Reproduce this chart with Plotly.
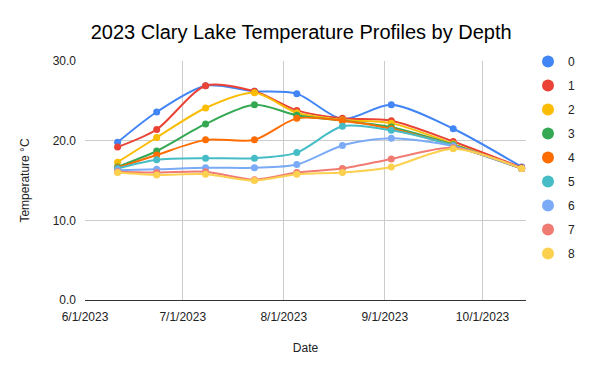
import plotly.graph_objects as go

dates = ["2023-06-11", "2023-06-23", "2023-07-08", "2023-07-23", "2023-08-05",
         "2023-08-19", "2023-09-03", "2023-09-22", "2023-10-13"]

depth_names = ["0", "1", "2", "3", "4", "5", "6", "7", "8"]

d0 = [19.8, 23.6, 26.9, 26.2, 25.9, 22.7, 24.5, 21.5, 16.7]
d1 = [19.2, 21.4, 26.9, 26.2, 23.8, 22.8, 22.5, 19.9, 16.6]
d2 = [17.3, 20.4, 24.1, 26.0, 23.5, 22.6, 22.2, 19.6, 16.5]
d3 = [16.7, 18.7, 22.1, 24.5, 23.2, 22.5, 21.7, 19.5, 16.5]
d4 = [16.6, 18.2, 20.1, 20.1, 22.8, 22.5, 21.5, 19.4, 16.5]
d5 = [16.5, 17.6, 17.8, 17.8, 18.5, 21.8, 21.3, 19.4, 16.5]
d6 = [16.3, 16.4, 16.6, 16.6, 17.0, 19.4, 20.3, 19.3, 16.5]
d7 = [16.1, 16.0, 16.1, 15.1, 16.0, 16.5, 17.7, 19.1, 16.5]
d8 = [16.0, 15.7, 15.8, 15.0, 15.8, 16.0, 16.7, 19.0, 16.5]

series = [d0, d1, d2, d3, d4, d5, d6, d7, d8]
colors = ["#4285F4", "#EA4335", "#FBBC04", "#34A853", "#FF6D01",
          "#46BDC6", "#7BAAF7", "#F07B72", "#FCD04F"]

FONT = "Liberation Sans, Arial, sans-serif"

fig = go.Figure()
for name, vals, col in zip(depth_names, series, colors):
    fig.add_trace(go.Scatter(
        x=dates, y=vals, mode="lines+markers", name=name,
        line=dict(color=col, width=2, shape="spline", smoothing=0.8),
        marker=dict(color=col, size=7),
        showlegend=False, hoverinfo="x+y+name"))
for name, col in zip(depth_names, colors):
    fig.add_trace(go.Scatter(
        x=[None], y=[None], mode="markers", name=name,
        marker=dict(color=col, size=12), legendgroup=name,
        showlegend=True))

fig.update_layout(
    width=600, height=371,
    margin=dict(l=85, r=74, t=61, b=71, autoexpand=False),
    paper_bgcolor="white", plot_bgcolor="white",
    font=dict(family=FONT, size=12, color="#222222"),
    title=dict(text="2023 Clary Lake Temperature Profiles by Depth",
               x=0.502, xanchor="center", y=1 - 32/371, yanchor="middle",
               xref="container", yref="container",
               font=dict(family=FONT, size=20, color="#000000")),
    legend=dict(xref="container", yref="container",
                x=528/600, xanchor="left", y=1 - 47/371, yanchor="top",
                font=dict(family=FONT, size=12, color="#222222"),
                tracegroupgap=5, itemsizing="trace", maxheight=330,
                bgcolor="rgba(0,0,0,0)"),
    showlegend=True,
)
fig.update_xaxes(
    type="date", range=["2023-06-01", "2023-10-14 08:00"],
    tick0="2023-06-01", dtick="M1", tickformat="%-m/%-d/%Y",
    showgrid=True, gridcolor="#cccccc", gridwidth=1,
    showline=True, linecolor="#333333", linewidth=1,
    ticks="", zeroline=False, automargin=False,
    ticklabelstandoff=6,
    title=dict(text="Date", font=dict(family=FONT, size=12, color="#222222"), standoff=20),
    tickfont=dict(family=FONT, size=12, color="#222222"),
)
fig.update_yaxes(
    range=[0, 30], dtick=10, tickformat=".1f",
    showgrid=True, gridcolor="#cccccc", gridwidth=1,
    showline=False, zeroline=False, ticks="", automargin=False,
    ticklabelstandoff=8,
    title=dict(text="Temperature °C", font=dict(family=FONT, size=12, color="#222222"), standoff=20),
    tickfont=dict(family=FONT, size=12, color="#222222"),
)

fig.write_html("out.html", config={"displayModeBar": False},
               post_script="document.body.style.margin='0';document.body.style.padding='0';")
